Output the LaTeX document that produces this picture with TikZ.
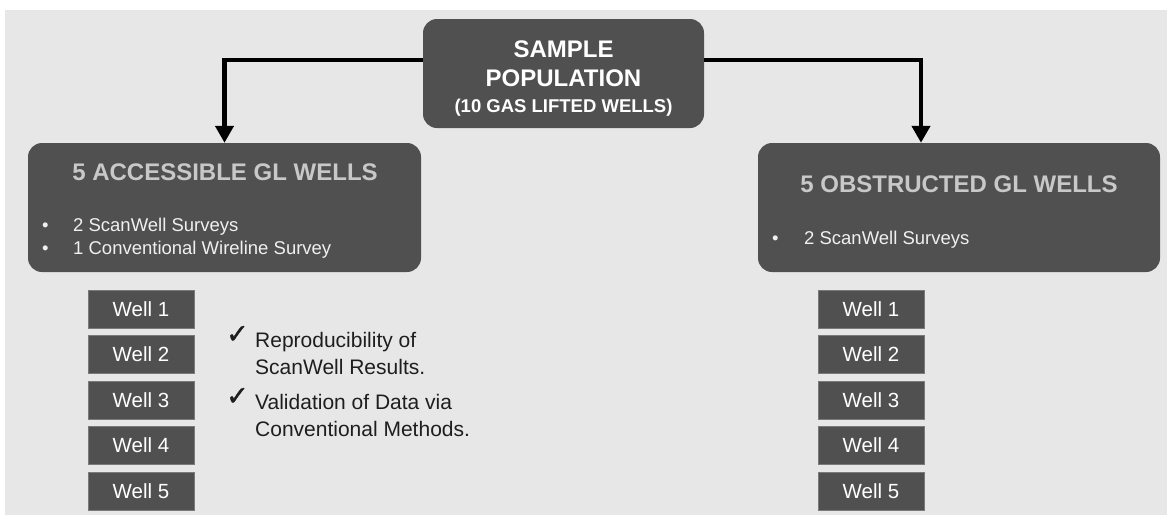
\documentclass[tikz,border=0pt]{standalone}
\usepackage{fontspec}
\setmainfont{Liberation Sans}
\newfontfamily\symfont[FakeBold=1.2]{DejaVu Sans}
\usetikzlibrary{arrows.meta}
\definecolor{boxgray}{HTML}{505050}
\definecolor{bggray}{HTML}{E7E7E7}
\definecolor{titlegray}{HTML}{C8C8C8}
\definecolor{bullettxt}{HTML}{F0F0F0}
\definecolor{checktxt}{HTML}{1E1E1E}
\definecolor{welledge}{HTML}{7A7A7A}
\tikzset{
  bigbox/.style={fill=boxgray, draw=none, rounded corners=14pt, inner sep=0pt},
  wellbox/.style={fill=boxgray, draw=welledge, line width=0.7pt, minimum width=106pt,
    minimum height=38pt, inner sep=0pt, text=white, font=\fontsize{20.5}{24}\selectfont},
  conn/.style={line width=4.5pt, -{Triangle[width=18pt,length=17pt]}, black},
  boxtitle/.style={text=titlegray, font=\bfseries\fontsize{24}{28}\selectfont, anchor=base, inner sep=0pt},
  toptxt/.style={text=white, anchor=base, inner sep=0pt},
  bullettext/.style={text=bullettxt, font=\fontsize{18.5}{22}\selectfont, anchor=base west, inner sep=0pt},
  checkmark/.style={text=checktxt, font=\symfont\fontsize{27}{30}\selectfont, anchor=base west, inner sep=0pt},
  checktext/.style={text=checktxt, font=\fontsize{21}{27}\selectfont, anchor=base west, inner sep=0pt},
}
\begin{document}
\begin{tikzpicture}[x=1pt,y=-1pt]
  \useasboundingbox (0,0) rectangle (1167,520);
  \fill[white] (0,0) rectangle (1167,520);
  \fill[bggray] (5,10) rectangle (1167,515);

  % main boxes
  \node[bigbox, minimum width=281pt, minimum height=109pt] (top) at (563.5,73.5) {};
  \node[bigbox, minimum width=393pt, minimum height=129pt] (left) at (224.5,207.5) {};
  \node[bigbox, minimum width=402pt, minimum height=129pt] (right) at (959,207.5) {};

  % top text
  \node[toptxt, font=\bfseries\fontsize{24}{28}\selectfont] (t1) at (563.5,57) {SAMPLE};
  \node[toptxt, font=\bfseries\fontsize{24}{28}\selectfont] (t2) at (563.5,86) {POPULATION};
  \node[toptxt, font=\bfseries\fontsize{18.5}{22}\selectfont] (t3) at (563.5,112) {(10 GAS LIFTED WELLS)};

  % connectors
  \draw[conn] ([yshift=13.5pt]top.west) -| (left.north);
  \draw[conn] ([yshift=13.5pt]top.east) -| ([xshift=-38pt]right.north);

  % left box text
  \node[boxtitle] (lt) at (225,180) {5 ACCESSIBLE GL WELLS};
  \node[bullettext] (lb1) at (42,231) {•};
  \node[bullettext] (lx1) at (73,231) {2 ScanWell Surveys};
  \node[bullettext] (lb2) at (42,254) {•};
  \node[bullettext] (lx2) at (73,254) {1 Conventional Wireline Survey};

  % right box text
  \node[boxtitle] (rt) at (959,192) {5 OBSTRUCTED GL WELLS};
  \node[bullettext] (rb1) at (772,244) {•};
  \node[bullettext] (rx1) at (804,244) {2 ScanWell Surveys};

  % wells
  \foreach \i/\yy in {1/309,2/354.5,3/400,4/445.5,5/491}{
    \node[wellbox] (lw\i) at (141,\yy) {Well \i};
    \node[wellbox] (rw\i) at (871,\yy) {Well \i};
  }

  % check list
  \node[checkmark] (c1) at (226,343) {✓};
  \node[checktext] (c1a) at (255,347) {Reproducibility of};
  \node[checktext] (c1b) at (255,374) {ScanWell Results.};
  \node[checkmark] (c2) at (226,405) {✓};
  \node[checktext] (c2a) at (255,409) {Validation of Data via};
  \node[checktext] (c2b) at (255,436) {Conventional Methods.};
\end{tikzpicture}
\end{document}
